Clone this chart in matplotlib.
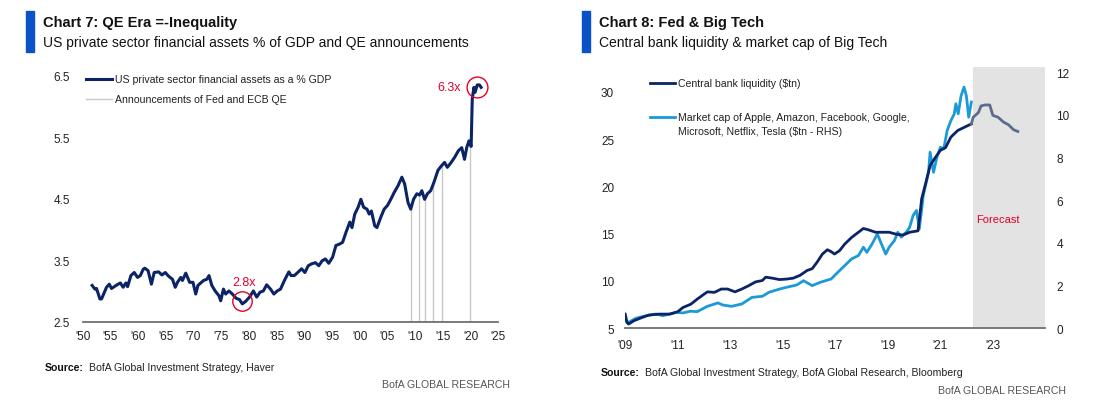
import matplotlib
matplotlib.use("Agg")
import matplotlib.pyplot as plt
import numpy as np

plt.rcParams['font.family'] = ['Liberation Sans', 'DejaVu Sans']
plt.rcParams['font.size'] = 8

W, H = 1098, 406

# chart 7 data
years_l = [1951.7, 1952.2, 1952.5, 1953.1, 1953.4, 1954.3, 1954.8, 1955.2, 1956.2, 1956.8,
           1957.3, 1957.8, 1958.1, 1958.7, 1959.3, 1959.9, 1960.4, 1960.9, 1961.2, 1961.8,
           1962.4, 1962.9, 1963.7, 1964.3, 1964.9, 1965.5, 1966.2, 1966.7, 1967.1, 1967.7,
           1968.0, 1968.6, 1969.3, 1969.9, 1970.4, 1970.8, 1971.8, 1972.4, 1972.8, 1973.3,
           1973.9, 1974.6, 1974.9, 1975.4, 1975.8, 1976.4, 1977.0, 1977.7, 1978.3, 1978.8,
           1979.4, 1980.1, 1980.8, 1981.4, 1982.0, 1982.6, 1983.2, 1983.9, 1984.5, 1985.1,
           1985.7, 1986.4, 1987.2, 1987.6, 1988.2, 1988.8, 1989.5, 1990.1, 1990.7, 1991.3,
           1992.0, 1992.6, 1993.2, 1993.8, 1994.4, 1995.1, 1995.7, 1996.3, 1996.9, 1997.5,
           1998.2, 1998.6, 1999.1, 1999.7, 2000.2, 2000.7, 2001.3, 2001.7, 2002.1, 2002.7,
           2003.1, 2003.8, 2004.4, 2005.0, 2005.6, 2006.2, 2006.9, 2007.6, 2008.1, 2008.7,
           2009.2, 2009.7, 2010.3, 2010.8, 2011.2, 2011.7, 2012.2, 2012.8, 2013.4, 2014.1,
           2014.7, 2015.3, 2015.8, 2016.5, 2017.1, 2017.8, 2018.4, 2018.9, 2019.3, 2019.7,
           2020.1, 2020.3, 2020.6, 2020.8, 2021.2, 2021.6, 2021.9]
assets_gdp = [3.09, 3.03, 3.04, 2.87, 2.87, 3.06, 3.11, 3.04, 3.10, 3.13,
              3.06, 3.13, 3.07, 3.25, 3.30, 3.22, 3.25, 3.35, 3.37, 3.33,
              3.11, 3.30, 3.31, 3.26, 3.30, 3.24, 3.19, 3.06, 3.14, 3.22,
              3.17, 3.29, 3.14, 3.14, 2.95, 3.09, 3.17, 3.19, 3.25, 3.09,
              3.00, 2.92, 2.84, 3.03, 2.95, 3.00, 2.95, 2.88, 2.86, 2.79,
              2.83, 2.90, 3.00, 2.90, 2.98, 3.00, 3.10, 3.03, 2.95, 3.00,
              3.03, 3.17, 3.31, 3.25, 3.25, 3.30, 3.36, 3.30, 3.41, 3.44,
              3.46, 3.41, 3.49, 3.52, 3.45, 3.55, 3.74, 3.76, 3.79, 3.95,
              4.12, 4.03, 4.25, 4.36, 4.49, 4.36, 4.33, 4.25, 4.30, 4.06,
              4.03, 4.20, 4.33, 4.39, 4.49, 4.60, 4.71, 4.85, 4.74, 4.44,
              4.33, 4.49, 4.58, 4.56, 4.63, 4.49, 4.58, 4.63, 4.77, 4.96,
              5.03, 5.09, 5.01, 5.09, 5.17, 5.28, 5.33, 5.14, 5.33, 5.44,
              5.35, 6.12, 6.31, 6.23, 6.35, 6.35, 6.31]
qe_dates = [2009.2, 2010.6, 2011.7, 2013.3, 2014.8, 2019.9]
xticks_l = list(range(1950, 2026, 5))
yticks_l = [2.5, 3.5, 4.5, 5.5, 6.5]

# chart 8 data
years_cb = [2009.0, 2009.07, 2009.13, 2009.33, 2009.65, 2009.9, 2010.3, 2010.7, 2011.0, 2011.2,
            2011.5, 2011.75, 2012.0, 2012.13, 2012.4, 2012.66, 2012.9, 2013.18, 2013.44, 2013.7,
            2013.96, 2014.22, 2014.35, 2014.6, 2014.87, 2015.14, 2015.4, 2015.66, 2015.92, 2016.12,
            2016.31, 2016.51, 2016.7, 2016.84, 2016.97, 2017.16, 2017.36, 2017.62, 2017.88, 2018.07,
            2018.27, 2018.53, 2018.79, 2019.05, 2019.31, 2019.57, 2019.83, 2020.15, 2020.29, 2020.42,
            2020.61, 2020.81, 2021.0, 2021.2, 2021.4, 2021.66, 2021.92, 2022.18]
cb_liquidity = [6.5, 5.6, 5.45, 5.8, 6.15, 6.4, 6.5, 6.5, 6.75, 7.2,
                7.55, 8.1, 8.6, 8.85, 8.8, 9.15, 9.15, 8.85, 9.15, 9.5,
                9.9, 10.05, 10.4, 10.3, 10.15, 10.2, 10.3, 10.6, 11.1, 11.3,
                12.0, 12.85, 13.3, 13.1, 12.85, 13.2, 13.9, 14.6, 15.15, 15.55,
                15.4, 15.15, 15.15, 15.15, 14.95, 14.85, 15.15, 15.3, 18.7, 20.1,
                22.2, 23.05, 23.8, 24.1, 25.2, 25.9, 26.25, 26.6]
years_fc = [2022.18, 2022.25, 2022.45, 2022.55, 2022.7, 2022.88, 2023.0, 2023.2, 2023.4, 2023.6, 2023.78, 2023.95]
cb_forecast = [26.6, 27.3, 27.8, 28.5, 28.6, 28.6, 27.5, 27.3, 26.8, 26.5, 26.0, 25.8]
years_bt = [2009.0, 2009.13, 2009.4, 2009.8, 2010.17, 2010.43, 2010.7, 2010.95, 2011.2, 2011.48,
            2011.74, 2012.13, 2012.53, 2012.72, 2013.05, 2013.44, 2013.83, 2014.22, 2014.48, 2014.88,
            2015.14, 2015.53, 2015.79, 2016.12, 2016.44, 2016.84, 2017.1, 2017.36, 2017.62, 2017.88,
            2018.07, 2018.2, 2018.4, 2018.6, 2018.73, 2018.92, 2019.05, 2019.25, 2019.38, 2019.51,
            2019.7, 2019.83, 2019.96, 2020.09, 2020.2, 2020.35, 2020.55, 2020.61, 2020.74, 2020.87,
            2021.0, 2021.13, 2021.26, 2021.4, 2021.53, 2021.59, 2021.68, 2021.79, 2021.9, 2021.99,
            2022.08, 2022.18]
bigtech_cap = [0.36, 0.28, 0.47, 0.59, 0.67, 0.59, 0.67, 0.75, 0.72, 0.80,
               0.78, 1.03, 1.19, 1.09, 1.03, 1.14, 1.45, 1.50, 1.69, 1.84,
               1.92, 2.03, 2.23, 2.00, 2.16, 2.31, 2.63, 2.94, 3.25, 3.41,
               3.80, 3.56, 3.95, 4.42, 4.03, 3.48, 3.80, 4.11, 4.50, 4.27,
               4.50, 4.73, 5.28, 5.52, 4.66, 6.22, 7.31, 8.25, 7.31, 8.02,
               8.48, 8.41, 9.27, 9.73, 10.05, 10.52, 10.05, 10.90, 11.30, 10.90,
               9.89, 10.60]
forecast_start = 2022.23
xticks_r = list(range(2009, 2024, 2))
yticks_rl = [5, 10, 15, 20, 25, 30]
yticks_rr = [0, 2, 4, 6, 8, 10, 12]

navy = '#0b2466'
light = '#1b9ad8'
fc_col = '#5d6b8f'
red = '#e4002b'
axis_col = '#707070'
txt = '#222222'
fs = 7.6
tfs = 8.5


def rect(l, t, r, b):
    return [l / W, 1 - b / H, (r - l) / W, (b - t) / H]


def yr_label(y):
    return "'" + str(y)[-2:]


fig = plt.figure(figsize=(W / 100, H / 100), dpi=100)

# headers
for x0, title, sub in [(26, 'Chart 7: QE Era =-Inequality',
                        'US private sector financial assets % of GDP and QE announcements'),
                       (582, 'Chart 8: Fed & Big Tech',
                        'Central bank liquidity & market cap of Big Tech')]:
    fig.patches.append(plt.Rectangle((x0 / W, 1 - 53 / H), 8 / W, 41 / H,
                                     transform=fig.transFigure, color='#0a52c7'))
    fig.text((x0 + 17) / W, 1 - 23 / H, title, fontsize=10.5, fontweight='bold',
             va='center', color='#111111')
    fig.text((x0 + 17) / W, 1 - 43.5 / H, sub, fontsize=10, va='center', color='#111111')


def source(x, y, rest):
    t = fig.text(x / W, 1 - y / H, 'Source:', fontsize=fs, fontweight='bold', va='center', color='#111111')
    fig.axes[0].annotate(rest, xy=(1, 0.5), xycoords=t, xytext=(4, 0), textcoords='offset points',
                         va='center', fontsize=fs, color=txt, annotation_clip=False)


# ---- chart 7 ----
ax = fig.add_axes(rect(82.7, 76.7, 498.3, 322.7))
ax.set_xlim(1950, 2025)
ax.set_ylim(2.5, 6.5)
tops = np.interp(qe_dates, years_l, assets_gdp)
ax.vlines(qe_dates, 2.5, tops, color='#c8c8c8', lw=1.0, zorder=1)
ax.plot(years_l, assets_gdp, color=navy, lw=2.2, zorder=3, solid_joinstyle='round')
ax.plot([1978.7], [2.83], 'o', ms=14, mfc='none', mec=red, mew=1.0, zorder=4)
ax.plot([2021.2], [6.31], 'o', ms=15, mfc='none', mec=red, mew=1.0, zorder=4, clip_on=False)
ax.text(1979.1, 3.15, '2.8x', color=red, fontsize=9, ha='center', va='center')
ax.text(2016.2, 6.31, '6.3x', color=red, fontsize=9, ha='center', va='center')
ax.set_xticks(xticks_l)
ax.set_xticklabels([yr_label(y) for y in xticks_l])
ax.set_yticks(yticks_l)
ax.set_yticklabels(['2.5', '3.5', '4.5', '5.5', '6.5'])
for s in ['top', 'right', 'left']:
    ax.spines[s].set_visible(False)
ax.spines['bottom'].set_color(axis_col)
ax.spines['bottom'].set_linewidth(1.3)
ax.tick_params(length=0, labelsize=tfs, colors=txt, pad=6)
ax.tick_params(axis='y', pad=9)
# legend
ax.plot([0.008, 0.07], [0.985, 0.985], transform=ax.transAxes, color=navy, lw=2.2, clip_on=False)
ax.text(0.078, 0.985, 'US private sector financial assets as a % GDP', transform=ax.transAxes,
        va='center', fontsize=fs, color=txt)
ax.plot([0.008, 0.07], [0.907, 0.907], transform=ax.transAxes, color='#c8c8c8', lw=1.0, clip_on=False)
ax.text(0.078, 0.907, 'Announcements of Fed and ECB QE', transform=ax.transAxes,
        va='center', fontsize=fs, color=txt)

source(44.8, 368.3, 'BofA Global Investment Strategy, Haver')
fig.text(510.3 / W, 1 - 385 / H, 'BofA GLOBAL RESEARCH', fontsize=fs, va='center', ha='right', color='#555555')

# ---- chart 8 ----
ax2 = fig.add_axes(rect(625.2, 68.3, 1045.4, 329.3))
ax2.set_xlim(2009, 2025)
ax2.set_ylim(5, 32.58)
ax3 = ax2.twinx()
ax3.set_ylim(0, 12.23)
ax2.axvspan(forecast_start, 2025, color='#e3e3e3', lw=0, zorder=0)
ax2.plot(years_cb, cb_liquidity, color=navy, lw=2.0, zorder=3)
ax2.plot(years_fc, cb_forecast, color=fc_col, lw=2.0, zorder=3)
ax3.plot(years_bt, bigtech_cap, color=light, lw=2.0, zorder=2)
ax2.set_zorder(ax3.get_zorder() + 1)
ax2.patch.set_visible(False)
ax2.text(2023.2, 16.55, 'Forecast', color=red, fontsize=8, ha='center', va='center')
ax2.set_xticks(xticks_r)
ax2.set_xticklabels([yr_label(y) for y in xticks_r])
ax2.set_yticks(yticks_rl)
ax3.set_yticks(yticks_rr)
for a in (ax2, ax3):
    for s in ['top', 'right', 'left']:
        a.spines[s].set_visible(False)
    a.tick_params(length=0, labelsize=tfs, colors=txt)
ax3.spines['bottom'].set_visible(False)
ax2.spines['bottom'].set_color(axis_col)
ax2.spines['bottom'].set_linewidth(1.3)
ax2.tick_params(axis='x', pad=8)
ax2.tick_params(axis='y', pad=8)
ax3.tick_params(axis='y', pad=8)
# legend
ax2.plot([0.059, 0.119], [0.94, 0.94], transform=ax2.transAxes, color=navy, lw=2.0, clip_on=False)
ax2.text(0.125, 0.94, 'Central bank liquidity ($tn)', transform=ax2.transAxes,
         va='center', fontsize=fs, color=txt)
ax2.plot([0.059, 0.119], [0.808, 0.808], transform=ax2.transAxes, color=light, lw=2.0, clip_on=False)
ax2.text(0.125, 0.808, 'Market cap of Apple, Amazon, Facebook, Google,', transform=ax2.transAxes,
         va='center', fontsize=fs, color=txt)
ax2.text(0.125, 0.757, 'Microsoft, Netflix, Tesla ($tn - RHS)', transform=ax2.transAxes,
         va='center', fontsize=fs, color=txt)

source(600.5, 373.3, 'BofA Global Investment Strategy, BofA Global Research, Bloomberg')
fig.text(1065.9 / W, 1 - 390.7 / H, 'BofA GLOBAL RESEARCH', fontsize=fs, va='center', ha='right', color='#555555')

fig.savefig('out.png', dpi=100)
